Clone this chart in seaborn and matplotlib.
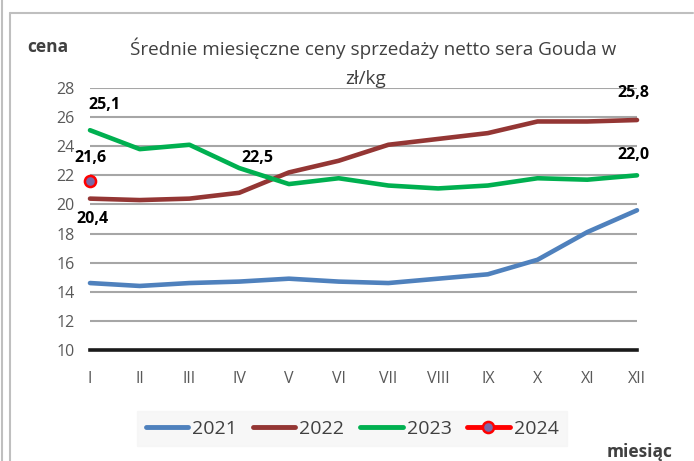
import matplotlib
matplotlib.use("Agg")
import matplotlib.pyplot as plt
from matplotlib.lines import Line2D
import seaborn as sns
import pandas as pd
import numpy as np

months = ["I", "II", "III", "IV", "V", "VI", "VII", "VIII", "IX", "X", "XI", "XII"]
y2021 = [14.6, 14.4, 14.6, 14.7, 14.9, 14.7, 14.6, 14.9, 15.2, 16.2, 18.1, 19.6]
y2022 = [20.4, 20.3, 20.4, 20.8, 22.2, 23.0, 24.1, 24.5, 24.9, 25.7, 25.7, 25.8]
y2023 = [25.1, 23.8, 24.1, 22.5, 21.4, 21.8, 21.3, 21.1, 21.3, 21.8, 21.7, 22.0]
y2024 = [21.6]
years = ["2021", "2022", "2023", "2024"]
colors = {"2021": "#4F81BD", "2022": "#943634", "2023": "#00B050", "2024": "#FF0000"}
marker_fill = "#7B68A6"

rows = []
for yr, vals in zip(years, [y2021, y2022, y2023, y2024]):
    for i, v in enumerate(vals):
        rows.append({"idx": i, "cena": v, "rok": yr})
df = pd.DataFrame(rows)

sns.set_theme(style="white")
plt.rcParams["font.family"] = ["Open Sans", "DejaVu Sans"]

fig = plt.figure(figsize=(6.94, 4.61), dpi=100)
ax = fig.add_axes([90 / 694, 1 - 350 / 461, (637 - 90) / 694, (350 - 88) / 461])

lines_df = df[df["rok"] != "2024"]
sns.lineplot(data=lines_df, x="idx", y="cena", hue="rok", palette=colors, ax=ax,
             linewidth=3.3, legend=False, solid_capstyle="round")
sns.lineplot(data=df[df["rok"] == "2024"], x="idx", y="cena", hue="rok", palette=colors,
             ax=ax, marker="o", markersize=8, markerfacecolor=marker_fill,
             markeredgecolor="#FF0000", markeredgewidth=1.8, linewidth=3.3, legend=False)
for ln in ax.lines:
    ln.set_clip_on(False)

ax.set_xlim(0, 11)
ax.set_ylim(10, 28)
ax.set_xticks(range(12))
ax.set_xticklabels(months)
ax.set_yticks(range(10, 29, 2))
ax.set_xlabel("")
ax.set_ylabel("")
ax.tick_params(axis="x", length=0, pad=15, labelsize=11.5, labelcolor="#595959")
ax.tick_params(axis="y", length=0, pad=11, labelsize=11.5, labelcolor="#595959")
ax.grid(axis="y", color="#A6A6A6", linewidth=1.5)
ax.grid(axis="x", visible=False)
ax.set_axisbelow(True)
for s in ["top", "right", "left"]:
    ax.spines[s].set_visible(False)
ax.spines["bottom"].set_color("#1a1a1a")
ax.spines["bottom"].set_linewidth(2.6)
ax.spines["bottom"].set_zorder(1.5)

lab_kw = dict(textcoords="offset pixels", ha="center", va="center",
              fontsize=11.5, fontweight="bold", color="#000000", annotation_clip=False)
ax.annotate("25,1", (0, y2023[0]), xytext=(14, 25), **lab_kw)
ax.annotate("20,4", (0, y2022[0]), xytext=(2, -20), **lab_kw)
ax.annotate("21,6", (0, y2024[0]), xytext=(0, 23), **lab_kw)
ax.annotate("22,5", (3, y2023[3]), xytext=(18, 10), **lab_kw)
ax.annotate("25,8", (11, y2022[11]), xytext=(-4, 27), **lab_kw)
ax.annotate("22,0", (11, y2023[11]), xytext=(-4, 20), **lab_kw)

fig.text(373 / 694, 1 - 48 / 461, "Średnie miesięczne ceny sprzedaży netto sera Gouda w",
         ha="center", va="center", fontsize=13.6, color="#404040")
fig.text(366 / 694, 1 - 79 / 461, "zł/kg", ha="center", va="center", fontsize=13.6, color="#404040")
fig.text(48 / 694, 1 - 47 / 461, "cena", ha="center", va="center", fontsize=12.5,
         fontweight="bold", color="#404040")
fig.text(640 / 694, 1 - 452 / 461, "miesiąc", ha="center", va="center", fontsize=12.5,
         fontweight="bold", color="#404040")

handles = [Line2D([0], [0], color=colors["2021"], lw=3.5),
           Line2D([0], [0], color=colors["2022"], lw=3.5),
           Line2D([0], [0], color=colors["2023"], lw=3.5),
           Line2D([0], [0], color=colors["2024"], lw=3.5, marker="o", markersize=8,
                  markerfacecolor=marker_fill, markeredgecolor="#FF0000", markeredgewidth=1.8)]
leg = fig.legend(handles, years, loc="center", bbox_to_anchor=(352 / 694, 1 - 428.5 / 461),
                 ncol=4, frameon=True, fontsize=14, handlelength=2.2, handletextpad=0.2,
                 columnspacing=0.8, borderpad=0.45, labelcolor="#404040")
leg.get_frame().set_facecolor("#F5F5F5")
leg.get_frame().set_edgecolor("#F5F5F5")
leg.get_frame().set_boxstyle("square", pad=0)

bc = "#BFBFBF"
fig.add_artist(Line2D([10 / 694, 693 / 694], [1 - 13 / 461, 1 - 13 / 461], color=bc, lw=1.5,
                      transform=fig.transFigure))
fig.add_artist(Line2D([10 / 694, 10 / 694], [0, 1 - 13 / 461], color=bc, lw=1.5,
                      transform=fig.transFigure))
fig.add_artist(Line2D([1.5 / 694, 1.5 / 694], [0, 1], color=bc, lw=1.5,
                      transform=fig.transFigure))

fig.savefig("out.png", dpi=100)
